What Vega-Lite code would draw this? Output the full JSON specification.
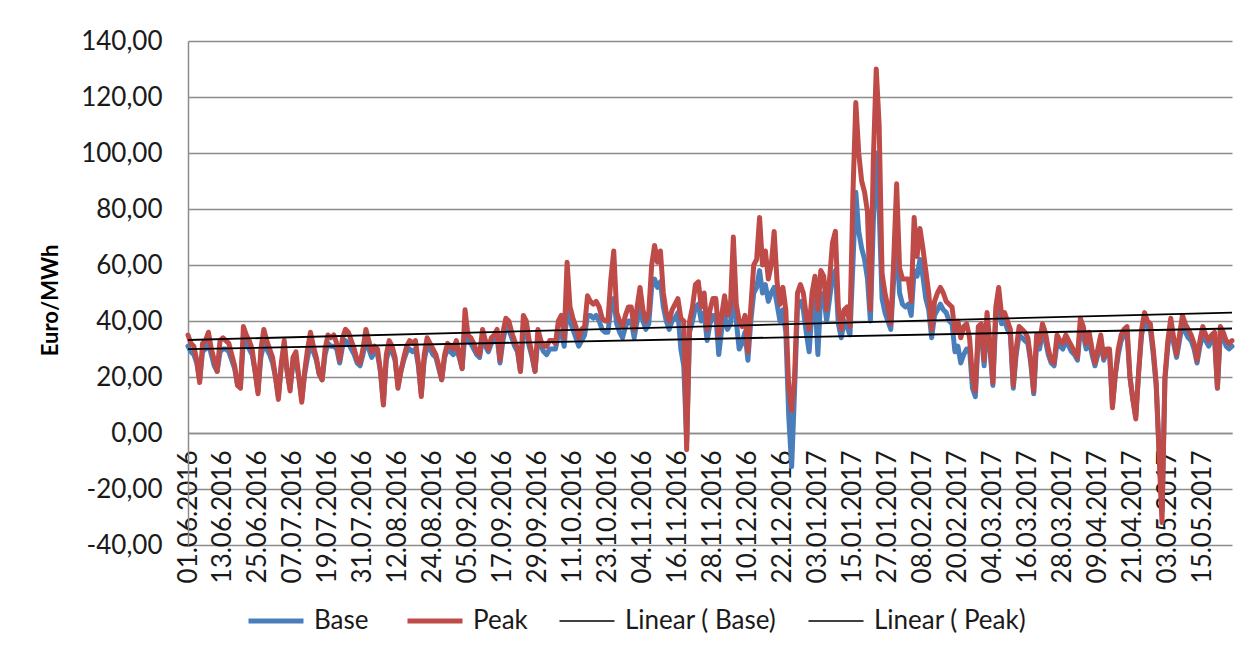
{
"$schema": "https://vega.github.io/schema/vega-lite/v6.json",
"width": 1044,
"height": 504,
"autosize": {"type": "none"},
"padding": {"left": 188, "top": 41, "right": 18, "bottom": 108},
"background": "white",
"config": {"view": {"stroke": null}, "font": "Lato"},
"data": {
"format": {"parse": {"t": "date"}},
"values": [
{"t":"2016-06-01","Base":31,"Peak":35},{"t":"2016-06-02","Base":29,"Peak":32},{"t":"2016-06-03","Base":28,"Peak":31},{"t":"2016-06-04","Base":25,"Peak":26},{"t":"2016-06-05","Base":19,"Peak":18},{"t":"2016-06-06","Base":29,"Peak":32},{"t":"2016-06-07","Base":30,"Peak":33},{"t":"2016-06-08","Base":32,"Peak":36},{"t":"2016-06-09","Base":28,"Peak":30},{"t":"2016-06-10","Base":24,"Peak":26},
{"t":"2016-06-11","Base":22,"Peak":22},{"t":"2016-06-12","Base":29,"Peak":33},{"t":"2016-06-13","Base":30,"Peak":34},{"t":"2016-06-14","Base":30,"Peak":33},{"t":"2016-06-15","Base":29,"Peak":32},{"t":"2016-06-16","Base":26,"Peak":28},{"t":"2016-06-17","Base":23,"Peak":24},{"t":"2016-06-18","Base":17,"Peak":17},{"t":"2016-06-19","Base":17,"Peak":16},{"t":"2016-06-20","Base":33,"Peak":38},
{"t":"2016-06-21","Base":32,"Peak":35},{"t":"2016-06-22","Base":30,"Peak":33},{"t":"2016-06-23","Base":28,"Peak":30},{"t":"2016-06-24","Base":22,"Peak":22},{"t":"2016-06-25","Base":15,"Peak":14},{"t":"2016-06-26","Base":27,"Peak":30},{"t":"2016-06-27","Base":32,"Peak":37},{"t":"2016-06-28","Base":30,"Peak":33},{"t":"2016-06-29","Base":28,"Peak":30},{"t":"2016-06-30","Base":25,"Peak":27},
{"t":"2016-07-01","Base":20,"Peak":20},{"t":"2016-07-02","Base":13,"Peak":12},{"t":"2016-07-03","Base":24,"Peak":25},{"t":"2016-07-04","Base":29,"Peak":33},{"t":"2016-07-05","Base":22,"Peak":22},{"t":"2016-07-06","Base":16,"Peak":15},{"t":"2016-07-07","Base":25,"Peak":27},{"t":"2016-07-08","Base":26,"Peak":29},{"t":"2016-07-09","Base":20,"Peak":20},{"t":"2016-07-10","Base":12,"Peak":11},
{"t":"2016-07-11","Base":21,"Peak":22},{"t":"2016-07-12","Base":27,"Peak":30},{"t":"2016-07-13","Base":32,"Peak":36},{"t":"2016-07-14","Base":29,"Peak":31},{"t":"2016-07-15","Base":26,"Peak":27},{"t":"2016-07-16","Base":21,"Peak":21},{"t":"2016-07-17","Base":19,"Peak":19},{"t":"2016-07-18","Base":28,"Peak":30},{"t":"2016-07-19","Base":32,"Peak":35},{"t":"2016-07-20","Base":31,"Peak":34},
{"t":"2016-07-21","Base":31,"Peak":35},{"t":"2016-07-22","Base":30,"Peak":32},{"t":"2016-07-23","Base":25,"Peak":26},{"t":"2016-07-24","Base":31,"Peak":34},{"t":"2016-07-25","Base":33,"Peak":37},{"t":"2016-07-26","Base":32,"Peak":36},{"t":"2016-07-27","Base":30,"Peak":33},{"t":"2016-07-28","Base":28,"Peak":30},{"t":"2016-07-29","Base":25,"Peak":26},{"t":"2016-07-30","Base":24,"Peak":25},
{"t":"2016-07-31","Base":28,"Peak":30},
{"t":"2016-08-01","Base":33,"Peak":37},{"t":"2016-08-02","Base":30,"Peak":33},{"t":"2016-08-03","Base":27,"Peak":29},{"t":"2016-08-04","Base":29,"Peak":31},{"t":"2016-08-05","Base":28,"Peak":30},{"t":"2016-08-06","Base":22,"Peak":22},{"t":"2016-08-07","Base":11,"Peak":10},{"t":"2016-08-08","Base":26,"Peak":28},{"t":"2016-08-09","Base":30,"Peak":33},{"t":"2016-08-10","Base":29,"Peak":31},
{"t":"2016-08-11","Base":26,"Peak":27},{"t":"2016-08-12","Base":17,"Peak":16},{"t":"2016-08-13","Base":22,"Peak":22},{"t":"2016-08-14","Base":26,"Peak":27},{"t":"2016-08-15","Base":29,"Peak":31},{"t":"2016-08-16","Base":30,"Peak":33},{"t":"2016-08-17","Base":29,"Peak":32},{"t":"2016-08-18","Base":30,"Peak":33},{"t":"2016-08-19","Base":24,"Peak":25},{"t":"2016-08-20","Base":14,"Peak":13},
{"t":"2016-08-21","Base":26,"Peak":28},{"t":"2016-08-22","Base":31,"Peak":34},{"t":"2016-08-23","Base":30,"Peak":32},{"t":"2016-08-24","Base":28,"Peak":30},{"t":"2016-08-25","Base":27,"Peak":28},{"t":"2016-08-26","Base":23,"Peak":24},{"t":"2016-08-27","Base":19,"Peak":19},{"t":"2016-08-28","Base":27,"Peak":28},{"t":"2016-08-29","Base":30,"Peak":32},{"t":"2016-08-30","Base":29,"Peak":31},
{"t":"2016-08-31","Base":28,"Peak":30},
{"t":"2016-09-01","Base":30,"Peak":33},{"t":"2016-09-02","Base":27,"Peak":28},{"t":"2016-09-03","Base":23,"Peak":23},{"t":"2016-09-04","Base":36,"Peak":44},{"t":"2016-09-05","Base":33,"Peak":35},{"t":"2016-09-06","Base":32,"Peak":34},{"t":"2016-09-07","Base":30,"Peak":32},{"t":"2016-09-08","Base":28,"Peak":29},{"t":"2016-09-09","Base":27,"Peak":28},{"t":"2016-09-10","Base":34,"Peak":37},
{"t":"2016-09-11","Base":31,"Peak":33},{"t":"2016-09-12","Base":29,"Peak":30},{"t":"2016-09-13","Base":32,"Peak":34},{"t":"2016-09-14","Base":33,"Peak":35},{"t":"2016-09-15","Base":34,"Peak":37},{"t":"2016-09-16","Base":25,"Peak":26},{"t":"2016-09-17","Base":33,"Peak":36},{"t":"2016-09-18","Base":38,"Peak":41},{"t":"2016-09-19","Base":37,"Peak":40},{"t":"2016-09-20","Base":34,"Peak":36},
{"t":"2016-09-21","Base":31,"Peak":33},{"t":"2016-09-22","Base":29,"Peak":30},{"t":"2016-09-23","Base":22,"Peak":22},{"t":"2016-09-24","Base":38,"Peak":42},{"t":"2016-09-25","Base":36,"Peak":40},{"t":"2016-09-26","Base":31,"Peak":33},{"t":"2016-09-27","Base":27,"Peak":28},{"t":"2016-09-28","Base":22,"Peak":22},{"t":"2016-09-29","Base":34,"Peak":37},{"t":"2016-09-30","Base":31,"Peak":33},
{"t":"2016-10-01","Base":29,"Peak":31},{"t":"2016-10-02","Base":28,"Peak":31},{"t":"2016-10-03","Base":30,"Peak":33},{"t":"2016-10-04","Base":30,"Peak":33},{"t":"2016-10-05","Base":30,"Peak":32},{"t":"2016-10-06","Base":35,"Peak":40},{"t":"2016-10-07","Base":36,"Peak":42},{"t":"2016-10-08","Base":31,"Peak":34},{"t":"2016-10-09","Base":44,"Peak":61},{"t":"2016-10-10","Base":40,"Peak":45},
{"t":"2016-10-11","Base":37,"Peak":41},{"t":"2016-10-12","Base":34,"Peak":38},{"t":"2016-10-13","Base":31,"Peak":34},{"t":"2016-10-14","Base":33,"Peak":37},{"t":"2016-10-15","Base":35,"Peak":38},{"t":"2016-10-16","Base":42,"Peak":49},{"t":"2016-10-17","Base":42,"Peak":47},{"t":"2016-10-18","Base":41,"Peak":46},{"t":"2016-10-19","Base":42,"Peak":47},{"t":"2016-10-20","Base":40,"Peak":45},
{"t":"2016-10-21","Base":37,"Peak":41},{"t":"2016-10-22","Base":36,"Peak":40},{"t":"2016-10-23","Base":36,"Peak":40},{"t":"2016-10-24","Base":45,"Peak":55},{"t":"2016-10-25","Base":48,"Peak":65},{"t":"2016-10-26","Base":39,"Peak":43},{"t":"2016-10-27","Base":36,"Peak":40},{"t":"2016-10-28","Base":34,"Peak":38},{"t":"2016-10-29","Base":38,"Peak":42},{"t":"2016-10-30","Base":40,"Peak":45},
{"t":"2016-10-31","Base":40,"Peak":45},
{"t":"2016-11-01","Base":34,"Peak":37},{"t":"2016-11-02","Base":40,"Peak":45},{"t":"2016-11-03","Base":45,"Peak":52},{"t":"2016-11-04","Base":40,"Peak":44},{"t":"2016-11-05","Base":37,"Peak":40},{"t":"2016-11-06","Base":39,"Peak":43},{"t":"2016-11-07","Base":52,"Peak":60},{"t":"2016-11-08","Base":55,"Peak":67},{"t":"2016-11-09","Base":52,"Peak":61},{"t":"2016-11-10","Base":54,"Peak":65},
{"t":"2016-11-11","Base":45,"Peak":50},{"t":"2016-11-12","Base":40,"Peak":43},{"t":"2016-11-13","Base":37,"Peak":40},{"t":"2016-11-14","Base":40,"Peak":44},{"t":"2016-11-15","Base":41,"Peak":46},{"t":"2016-11-16","Base":43,"Peak":48},{"t":"2016-11-17","Base":30,"Peak":41},{"t":"2016-11-18","Base":24,"Peak":40},{"t":"2016-11-19","Base":-3,"Peak":-6},{"t":"2016-11-20","Base":36,"Peak":40},
{"t":"2016-11-21","Base":40,"Peak":45},{"t":"2016-11-22","Base":45,"Peak":53},{"t":"2016-11-23","Base":46,"Peak":54},{"t":"2016-11-24","Base":40,"Peak":45},{"t":"2016-11-25","Base":43,"Peak":50},{"t":"2016-11-26","Base":33,"Peak":37},{"t":"2016-11-27","Base":39,"Peak":44},{"t":"2016-11-28","Base":42,"Peak":48},{"t":"2016-11-29","Base":42,"Peak":48},{"t":"2016-11-30","Base":28,"Peak":35},
{"t":"2016-12-01","Base":37,"Peak":42},{"t":"2016-12-02","Base":42,"Peak":49},{"t":"2016-12-03","Base":37,"Peak":42},{"t":"2016-12-04","Base":39,"Peak":45},{"t":"2016-12-05","Base":52,"Peak":70},{"t":"2016-12-06","Base":40,"Peak":46},{"t":"2016-12-07","Base":30,"Peak":40},{"t":"2016-12-08","Base":32,"Peak":38},{"t":"2016-12-09","Base":36,"Peak":42},{"t":"2016-12-10","Base":26,"Peak":29},
{"t":"2016-12-11","Base":40,"Peak":45},{"t":"2016-12-12","Base":50,"Peak":60},{"t":"2016-12-13","Base":52,"Peak":62},{"t":"2016-12-14","Base":58,"Peak":77},{"t":"2016-12-15","Base":50,"Peak":60},{"t":"2016-12-16","Base":53,"Peak":65},{"t":"2016-12-17","Base":47,"Peak":55},{"t":"2016-12-18","Base":50,"Peak":60},{"t":"2016-12-19","Base":52,"Peak":72},{"t":"2016-12-20","Base":46,"Peak":54},
{"t":"2016-12-21","Base":40,"Peak":46},{"t":"2016-12-22","Base":44,"Peak":52},{"t":"2016-12-23","Base":36,"Peak":44},{"t":"2016-12-24","Base":6,"Peak":16},{"t":"2016-12-25","Base":-12,"Peak":8},{"t":"2016-12-26","Base":15,"Peak":20},{"t":"2016-12-27","Base":45,"Peak":50},{"t":"2016-12-28","Base":47,"Peak":53},{"t":"2016-12-29","Base":44,"Peak":50},{"t":"2016-12-30","Base":36,"Peak":42},
{"t":"2016-12-31","Base":29,"Peak":37},
{"t":"2017-01-01","Base":44,"Peak":50},{"t":"2017-01-02","Base":48,"Peak":56},{"t":"2017-01-03","Base":28,"Peak":44},{"t":"2017-01-04","Base":50,"Peak":58},{"t":"2017-01-05","Base":49,"Peak":56},{"t":"2017-01-06","Base":40,"Peak":44},{"t":"2017-01-07","Base":48,"Peak":55},{"t":"2017-01-08","Base":56,"Peak":68},{"t":"2017-01-09","Base":58,"Peak":72},{"t":"2017-01-10","Base":39,"Peak":45},
{"t":"2017-01-11","Base":34,"Peak":37},{"t":"2017-01-12","Base":40,"Peak":44},{"t":"2017-01-13","Base":38,"Peak":45},{"t":"2017-01-14","Base":35,"Peak":38},{"t":"2017-01-15","Base":60,"Peak":85},{"t":"2017-01-16","Base":86,"Peak":118},{"t":"2017-01-17","Base":72,"Peak":100},{"t":"2017-01-18","Base":66,"Peak":90},{"t":"2017-01-19","Base":62,"Peak":86},{"t":"2017-01-20","Base":55,"Peak":79},
{"t":"2017-01-21","Base":40,"Peak":44},{"t":"2017-01-22","Base":75,"Peak":97},{"t":"2017-01-23","Base":100,"Peak":130},{"t":"2017-01-24","Base":80,"Peak":110},{"t":"2017-01-25","Base":48,"Peak":57},{"t":"2017-01-26","Base":43,"Peak":50},{"t":"2017-01-27","Base":40,"Peak":45},{"t":"2017-01-28","Base":37,"Peak":39},{"t":"2017-01-29","Base":55,"Peak":62},{"t":"2017-01-30","Base":68,"Peak":89},
{"t":"2017-01-31","Base":50,"Peak":59},
{"t":"2017-02-01","Base":46,"Peak":55},{"t":"2017-02-02","Base":45,"Peak":55},{"t":"2017-02-03","Base":46,"Peak":55},{"t":"2017-02-04","Base":42,"Peak":47},{"t":"2017-02-05","Base":58,"Peak":77},{"t":"2017-02-06","Base":56,"Peak":63},{"t":"2017-02-07","Base":62,"Peak":73},{"t":"2017-02-08","Base":56,"Peak":66},{"t":"2017-02-09","Base":48,"Peak":58},{"t":"2017-02-10","Base":44,"Peak":50},
{"t":"2017-02-11","Base":34,"Peak":37},{"t":"2017-02-12","Base":42,"Peak":47},{"t":"2017-02-13","Base":44,"Peak":50},{"t":"2017-02-14","Base":46,"Peak":52},{"t":"2017-02-15","Base":44,"Peak":50},{"t":"2017-02-16","Base":43,"Peak":47},{"t":"2017-02-17","Base":40,"Peak":46},{"t":"2017-02-18","Base":39,"Peak":45},{"t":"2017-02-19","Base":29,"Peak":36},{"t":"2017-02-20","Base":31,"Peak":40},
{"t":"2017-02-21","Base":25,"Peak":34},{"t":"2017-02-22","Base":28,"Peak":38},{"t":"2017-02-23","Base":30,"Peak":39},{"t":"2017-02-24","Base":30,"Peak":34},{"t":"2017-02-25","Base":16,"Peak":20},{"t":"2017-02-26","Base":13,"Peak":15},{"t":"2017-02-27","Base":35,"Peak":38},{"t":"2017-02-28","Base":36,"Peak":39},
{"t":"2017-03-01","Base":24,"Peak":26},{"t":"2017-03-02","Base":40,"Peak":43},{"t":"2017-03-03","Base":30,"Peak":32},{"t":"2017-03-04","Base":17,"Peak":18},{"t":"2017-03-05","Base":41,"Peak":45},{"t":"2017-03-06","Base":45,"Peak":52},{"t":"2017-03-07","Base":39,"Peak":42},{"t":"2017-03-08","Base":40,"Peak":43},{"t":"2017-03-09","Base":37,"Peak":40},{"t":"2017-03-10","Base":35,"Peak":37},
{"t":"2017-03-11","Base":16,"Peak":17},{"t":"2017-03-12","Base":28,"Peak":30},{"t":"2017-03-13","Base":35,"Peak":38},{"t":"2017-03-14","Base":34,"Peak":37},{"t":"2017-03-15","Base":33,"Peak":36},{"t":"2017-03-16","Base":32,"Peak":34},{"t":"2017-03-17","Base":25,"Peak":26},{"t":"2017-03-18","Base":14,"Peak":15},{"t":"2017-03-19","Base":32,"Peak":35},{"t":"2017-03-20","Base":30,"Peak":32},
{"t":"2017-03-21","Base":36,"Peak":39},{"t":"2017-03-22","Base":33,"Peak":36},{"t":"2017-03-23","Base":28,"Peak":30},{"t":"2017-03-24","Base":25,"Peak":26},{"t":"2017-03-25","Base":24,"Peak":25},{"t":"2017-03-26","Base":32,"Peak":35},{"t":"2017-03-27","Base":31,"Peak":33},{"t":"2017-03-28","Base":30,"Peak":32},{"t":"2017-03-29","Base":33,"Peak":35},{"t":"2017-03-30","Base":31,"Peak":33},
{"t":"2017-03-31","Base":29,"Peak":31},
{"t":"2017-04-01","Base":28,"Peak":29},{"t":"2017-04-02","Base":26,"Peak":27},{"t":"2017-04-03","Base":37,"Peak":41},{"t":"2017-04-04","Base":35,"Peak":38},{"t":"2017-04-05","Base":30,"Peak":32},{"t":"2017-04-06","Base":33,"Peak":36},{"t":"2017-04-07","Base":28,"Peak":30},{"t":"2017-04-08","Base":24,"Peak":25},{"t":"2017-04-09","Base":28,"Peak":30},{"t":"2017-04-10","Base":33,"Peak":35},
{"t":"2017-04-11","Base":26,"Peak":27},{"t":"2017-04-12","Base":29,"Peak":30},{"t":"2017-04-13","Base":29,"Peak":30},{"t":"2017-04-14","Base":10,"Peak":9},{"t":"2017-04-15","Base":21,"Peak":21},{"t":"2017-04-16","Base":28,"Peak":30},{"t":"2017-04-17","Base":33,"Peak":35},{"t":"2017-04-18","Base":35,"Peak":37},{"t":"2017-04-19","Base":36,"Peak":38},{"t":"2017-04-20","Base":20,"Peak":20},
{"t":"2017-04-21","Base":12,"Peak":12},{"t":"2017-04-22","Base":6,"Peak":5},{"t":"2017-04-23","Base":22,"Peak":22},{"t":"2017-04-24","Base":35,"Peak":37},{"t":"2017-04-25","Base":40,"Peak":43},{"t":"2017-04-26","Base":38,"Peak":40},{"t":"2017-04-27","Base":37,"Peak":39},{"t":"2017-04-28","Base":28,"Peak":30},{"t":"2017-04-29","Base":17,"Peak":18},{"t":"2017-04-30","Base":-6,"Peak":-8},
{"t":"2017-05-01","Base":-28,"Peak":-32},{"t":"2017-05-02","Base":19,"Peak":20},{"t":"2017-05-03","Base":31,"Peak":33},{"t":"2017-05-04","Base":38,"Peak":41},{"t":"2017-05-05","Base":32,"Peak":34},{"t":"2017-05-06","Base":27,"Peak":28},{"t":"2017-05-07","Base":33,"Peak":35},{"t":"2017-05-08","Base":39,"Peak":42},{"t":"2017-05-09","Base":36,"Peak":39},{"t":"2017-05-10","Base":34,"Peak":37},
{"t":"2017-05-11","Base":33,"Peak":35},{"t":"2017-05-12","Base":30,"Peak":32},{"t":"2017-05-13","Base":25,"Peak":26},{"t":"2017-05-14","Base":31,"Peak":33},{"t":"2017-05-15","Base":35,"Peak":38},{"t":"2017-05-16","Base":33,"Peak":35},{"t":"2017-05-17","Base":31,"Peak":33},{"t":"2017-05-18","Base":33,"Peak":35},{"t":"2017-05-19","Base":34,"Peak":36},{"t":"2017-05-20","Base":16,"Peak":16},
{"t":"2017-05-21","Base":35,"Peak":38},{"t":"2017-05-22","Base":34,"Peak":36},{"t":"2017-05-23","Base":31,"Peak":33},{"t":"2017-05-24","Base":30,"Peak":32},{"t":"2017-05-25","Base":31,"Peak":33}
]
},
"encoding": {
"x": {
"field": "t", "type": "temporal", "title": null,
"scale": {"type": "utc", "nice": false},
"axis": {
"values": [
{"year":2016,"month":6,"date":1,"utc":true},{"year":2016,"month":6,"date":13,"utc":true},{"year":2016,"month":6,"date":25,"utc":true},
{"year":2016,"month":7,"date":7,"utc":true},{"year":2016,"month":7,"date":19,"utc":true},{"year":2016,"month":7,"date":31,"utc":true},
{"year":2016,"month":8,"date":12,"utc":true},{"year":2016,"month":8,"date":24,"utc":true},{"year":2016,"month":9,"date":5,"utc":true},
{"year":2016,"month":9,"date":17,"utc":true},{"year":2016,"month":9,"date":29,"utc":true},{"year":2016,"month":10,"date":11,"utc":true},
{"year":2016,"month":10,"date":23,"utc":true},{"year":2016,"month":11,"date":4,"utc":true},{"year":2016,"month":11,"date":16,"utc":true},
{"year":2016,"month":11,"date":28,"utc":true},{"year":2016,"month":12,"date":10,"utc":true},{"year":2016,"month":12,"date":22,"utc":true},
{"year":2017,"month":1,"date":3,"utc":true},{"year":2017,"month":1,"date":15,"utc":true},{"year":2017,"month":1,"date":27,"utc":true},
{"year":2017,"month":2,"date":8,"utc":true},{"year":2017,"month":2,"date":20,"utc":true},{"year":2017,"month":3,"date":4,"utc":true},
{"year":2017,"month":3,"date":16,"utc":true},{"year":2017,"month":3,"date":28,"utc":true},{"year":2017,"month":4,"date":9,"utc":true},
{"year":2017,"month":4,"date":21,"utc":true},{"year":2017,"month":5,"date":3,"utc":true},{"year":2017,"month":5,"date":15,"utc":true}
],
"labelExpr": "utcFormat(datum.value, '%d.%m.%Y')",
"labelAngle": 270, "labelFont": "Lato", "labelFontSize": 26, "labelColor": "#1a1a1a",
"labelPadding": 17, "labelOverlap": false, "labelFlush": false, "labelBound": false,
"ticks": false, "grid": false, "domain": true, "domainColor": "#8c8c8c", "domainWidth": 1.5,
"offset": -112
}
}
},
"layer": [
{
"mark": {"type": "line", "strokeWidth": 5, "strokeJoin": "round", "strokeCap": "round"},
"encoding": {
"y": {
"field": "Base", "type": "quantitative", "title": "Euro/MWh",
"scale": {"domain": [-40, 140], "nice": false, "zero": false},
"axis": {
"values": [-40, -20, 0, 20, 40, 60, 80, 100, 120, 140],
"labelExpr": "replace((datum.value < 0 ? '-' : '') + format(abs(datum.value), '.2f'), '.', ',')",
"grid": true, "gridColor": "#8c8c8c", "gridWidth": 1.3,
"domain": true, "domainColor": "#8c8c8c", "domainWidth": 1.5,
"ticks": false, "labelPadding": 26,
"labelFont": "Lato", "labelFontSize": 26, "labelColor": "#1a1a1a",
"titleFont": "Lato", "titleFontSize": 22, "titleFontWeight": "bold", "titleColor": "#000000", "titlePadding": 18, "titleY": 259
}
},
"color": {
"datum": "Base", "type": "nominal",
"scale": {"domain": ["Base", "Peak", "Linear ( Base)", "Linear ( Peak)"], "range": ["#4A7EBB", "#BE4B48", "#000000", "#000000"]},
"legend": {
"title": null, "orient": "none", "legendX": 75, "legendY": 567, "direction": "horizontal",
"symbolType": "stroke", "symbolSize": 3025, "labelFont": "Lato", "labelFontSize": 26, "labelColor": "#1a1a1a",
"labelOffset": 25, "columnPadding": 28, "padding": 0, "labelLimit": 0,
"encode": {"symbols": {"update": {"strokeWidth": {"signal": "datum.value == 'Base' || datum.value == 'Peak' ? 5 : 1.6"}}}}
}
}
}
},
{
"mark": {"type": "line", "strokeWidth": 5, "strokeJoin": "round", "strokeCap": "round"},
"encoding": {
"y": {"field": "Peak", "type": "quantitative", "title": "Euro/MWh", "scale": {"domain": [-40, 140], "nice": false, "zero": false}},
"color": {"datum": "Peak", "type": "nominal"}
}
},
{
"transform": [{"regression": "Base", "on": "t"}],
"mark": {"type": "line", "strokeWidth": 1.8},
"encoding": {
"y": {"field": "Base", "type": "quantitative", "title": "Euro/MWh", "scale": {"domain": [-40, 140], "nice": false, "zero": false}},
"color": {"datum": "Linear ( Base)", "type": "nominal"}
}
},
{
"transform": [{"regression": "Peak", "on": "t"}],
"mark": {"type": "line", "strokeWidth": 1.8},
"encoding": {
"y": {"field": "Peak", "type": "quantitative", "title": "Euro/MWh", "scale": {"domain": [-40, 140], "nice": false, "zero": false}},
"color": {"datum": "Linear ( Peak)", "type": "nominal"}
}
}
]
}
